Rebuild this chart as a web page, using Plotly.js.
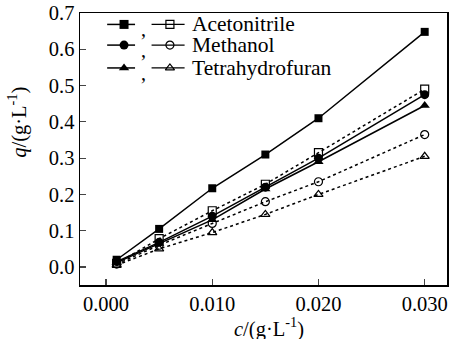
<!DOCTYPE html>
<html><head><meta charset="utf-8">
<script src="https://cdn.plot.ly/plotly-3.0.1.min.js"></script>
<style>body{margin:0;background:#fff}#c{width:450px;height:339px}</style>
</head><body><div id="c"></div>
<script>
const conc = [0.001, 0.005, 0.010, 0.015, 0.020, 0.030];
const solvents = ["Acetonitrile", "Methanol", "Tetrahydrofuran"];
const acnFilled = [0.020, 0.105, 0.217, 0.310, 0.410, 0.648];
const acnOpen   = [0.010, 0.078, 0.155, 0.228, 0.315, 0.490];
const meohFilled = [0.015, 0.068, 0.140, 0.220, 0.300, 0.475];
const meohOpen   = [0.008, 0.060, 0.120, 0.180, 0.235, 0.365];
const thfFilled = [0.012, 0.065, 0.130, 0.215, 0.290, 0.445];
const thfOpen   = [0.005, 0.050, 0.095, 0.145, 0.200, 0.305];
const xTicks = [0.000, 0.010, 0.020, 0.030];
const xTickText = ["0.000", "0.010", "0.020", "0.030"];
const yTicks = [0.0, 0.1, 0.2, 0.3, 0.4, 0.5, 0.6, 0.7];
const yTickText = ["0.0", "0.1", "0.2", "0.3", "0.4", "0.5", "0.6", "0.7"];

const FONT = "Liberation Serif, Times New Roman, serif";
const shapesF = ["square", "circle", "triangle-up"];
const shapesO = ["square-open", "circle-open", "triangle-up-open"];
const filled = [acnFilled, meohFilled, thfFilled];
const open = [acnOpen, meohOpen, thfOpen];

const traces = [];
for (let i = 0; i < 3; i++) {
  traces.push({x: conc, y: open[i], mode: "lines+markers", showlegend: false,
    line: {color: "black", width: 1.5, dash: "dot"},
    marker: {symbol: shapesO[i], size: 8, color: "black", line: {width: 1.2, color: "black"}}});
}
for (let i = 0; i < 3; i++) {
  traces.push({x: conc, y: filled[i], mode: "lines+markers", showlegend: false,
    line: {color: "black", width: 1.5},
    marker: {symbol: shapesF[i], size: i === 0 ? 8 : 9, color: "black"}});
}
// legend samples on an overlay paper-like axis
const rowY = [0.958, 0.882, 0.798];
const shapes = [];
const annotations = [];
for (let i = 0; i < 3; i++) {
  shapes.push({type: "line", xref: "paper", yref: "paper", x0: 0.074, x1: 0.150, y0: rowY[i], y1: rowY[i], line: {color: "black", width: 1.5}});
  shapes.push({type: "line", xref: "paper", yref: "paper", x0: 0.195, x1: 0.285, y0: rowY[i], y1: rowY[i], line: {color: "black", width: 1.2}});
  traces.push({x: [0.12], y: [rowY[i]], xaxis: "x2", yaxis: "y2", mode: "markers", showlegend: false,
    marker: {symbol: shapesF[i], size: 9, color: "black"}});
  traces.push({x: [0.245], y: [rowY[i]], xaxis: "x2", yaxis: "y2", mode: "markers", showlegend: false,
    marker: {symbol: shapesO[i].replace("-open", ""), size: 8, color: "white", line: {width: 1.2, color: "black"}}});
  annotations.push({xref: "paper", yref: "paper", x: 0.172, y: rowY[i] - 0.018, text: ",", showarrow: false,
    xanchor: "center", yanchor: "middle", font: {family: FONT, size: 20, color: "black"}});
  annotations.push({xref: "paper", yref: "paper", x: 0.300, y: rowY[i], text: solvents[i], showarrow: false,
    xanchor: "left", yanchor: "middle", font: {family: FONT, size: 21.5, color: "black"}});
}
annotations.push({xref: "paper", yref: "paper", x: -0.169, y: 0.6, text: "<i>q</i>/(g·L<sup>-1</sup>)", textangle: -90,
  showarrow: false, xanchor: "center", yanchor: "middle", font: {family: FONT, size: 20.5, color: "black"}});
annotations.push({xref: "paper", yref: "paper", x: 0.515, y: -0.158, text: "<i>c</i>/(g·L<sup>-1</sup>)",
  showarrow: false, xanchor: "center", yanchor: "middle", font: {family: FONT, size: 20.5, color: "black"}});

const layout = {
  width: 450, height: 339,
  margin: {l: 80, r: 3, t: 13, b: 54},
  paper_bgcolor: "white", plot_bgcolor: "white",
  showlegend: false,
  font: {family: FONT, size: 20, color: "black"},
  xaxis: {range: [-0.00245, 0.0321], tickvals: xTicks, ticktext: xTickText, ticks: "inside", ticklen: 6,
    showgrid: false, zeroline: false, showline: true, mirror: true, linecolor: "black", linewidth: 1.5, tickwidth: 1.2,
    tickfont: {family: FONT, size: 20.5}},
  yaxis: {range: [-0.0496, 0.7], tickvals: yTicks, ticktext: yTickText, ticks: "inside", ticklen: 6,
    showgrid: false, zeroline: false, showline: true, mirror: true, linecolor: "black", linewidth: 1.5, tickwidth: 1.2,
    tickfont: {family: FONT, size: 20.5}},
  xaxis2: {overlaying: "x", range: [0, 1], visible: false},
  yaxis2: {overlaying: "y", range: [0, 1], visible: false},
  shapes: shapes,
  annotations: annotations
};
Plotly.newPlot("c", traces, layout, {staticPlot: true});
</script></body></html>
